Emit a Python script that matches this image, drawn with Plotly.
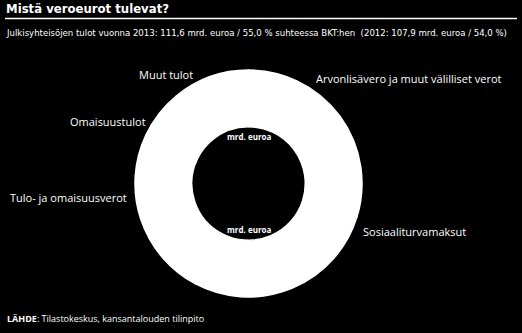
import plotly.graph_objects as go

categories = ["Tulo- ja omaisuusverot", "Arvonlisävero ja muut välilliset verot",
              "Sosiaaliturvamaksut", "Omaisuustulot", "Muut tulot"]
values = [33.2, 31.3, 27.0, 7.9, 12.2]  # mrd. euroa, 2013 (estimated)

W, H = 522, 333
label_pos = {
    "Muut tulot": (137, 74, "left"),
    "Arvonlisävero ja muut välilliset verot": (314, 78, "left"),
    "Omaisuustulot": (68, 122, "left"),
    "Tulo- ja omaisuusverot": (8, 197, "left"),
    "Sosiaaliturvamaksut": (361, 231, "left"),
}

fig = go.Figure(go.Pie(
    labels=categories, values=values, hole=0.5, sort=False, direction="clockwise",
    marker=dict(colors=["white"] * len(values), line=dict(color="white", width=1.5)),
    textinfo="none", hoverinfo="label+value", showlegend=False,
    domain=dict(x=[135 / W, 362 / W], y=[1 - 297 / H, 1 - 70 / H]),
))

cond = "DejaVu Sans Condensed"
ann = []
for c in categories:
    x, y, a = label_pos[c]
    ann.append(dict(x=x / W, y=1 - y / H, xref="paper", yref="paper", text=c,
                    showarrow=False, xanchor=a, yanchor="middle",
                    font=dict(family="Open Sans", size=11, color="white")))
for y in (136, 229):
    ann.append(dict(x=248.5 / W, y=1 - y / H, xref="paper", yref="paper", text="<b>mrd. euroa</b>",
                    showarrow=False, xanchor="center", yanchor="middle",
                    font=dict(family="Open Sans", size=8, color="white")))
ann.append(dict(x=4 / W, y=1 - 9 / H, xref="paper", yref="paper", text="<b>Mistä veroeurot tulevat?</b>",
                showarrow=False, xanchor="left", yanchor="middle",
                font=dict(family=cond, size=13, color="white")))
ann.append(dict(x=4 / W, y=1 - 33 / H, xref="paper", yref="paper",
                text="Julkisyhteisöjen tulot vuonna 2013: 111,6 mrd. euroa / 55,0 % suhteessa BKT:hen  (2012: 107,9 mrd. euroa / 54,0 %)",
                showarrow=False, xanchor="left", yanchor="middle",
                font=dict(family=cond, size=9.5, color="white")))
ann.append(dict(x=5 / W, y=1 - 318 / H, xref="paper", yref="paper",
                text="<b>LÄHDE</b>: Tilastokeskus, kansantalouden tilinpito",
                showarrow=False, xanchor="left", yanchor="middle",
                font=dict(family="Open Sans", size=9, color="white")))

fig.update_layout(
    width=W, height=H, margin=dict(l=0, r=0, t=0, b=0),
    paper_bgcolor="black", plot_bgcolor="black",
    annotations=ann,
    shapes=[dict(type="line", xref="paper", yref="paper", x0=5 / W, x1=517 / W,
                 y0=1 - 18.5 / H, y1=1 - 18.5 / H, line=dict(color="white", width=1.5))],
)
fig.write_html("out.html")
